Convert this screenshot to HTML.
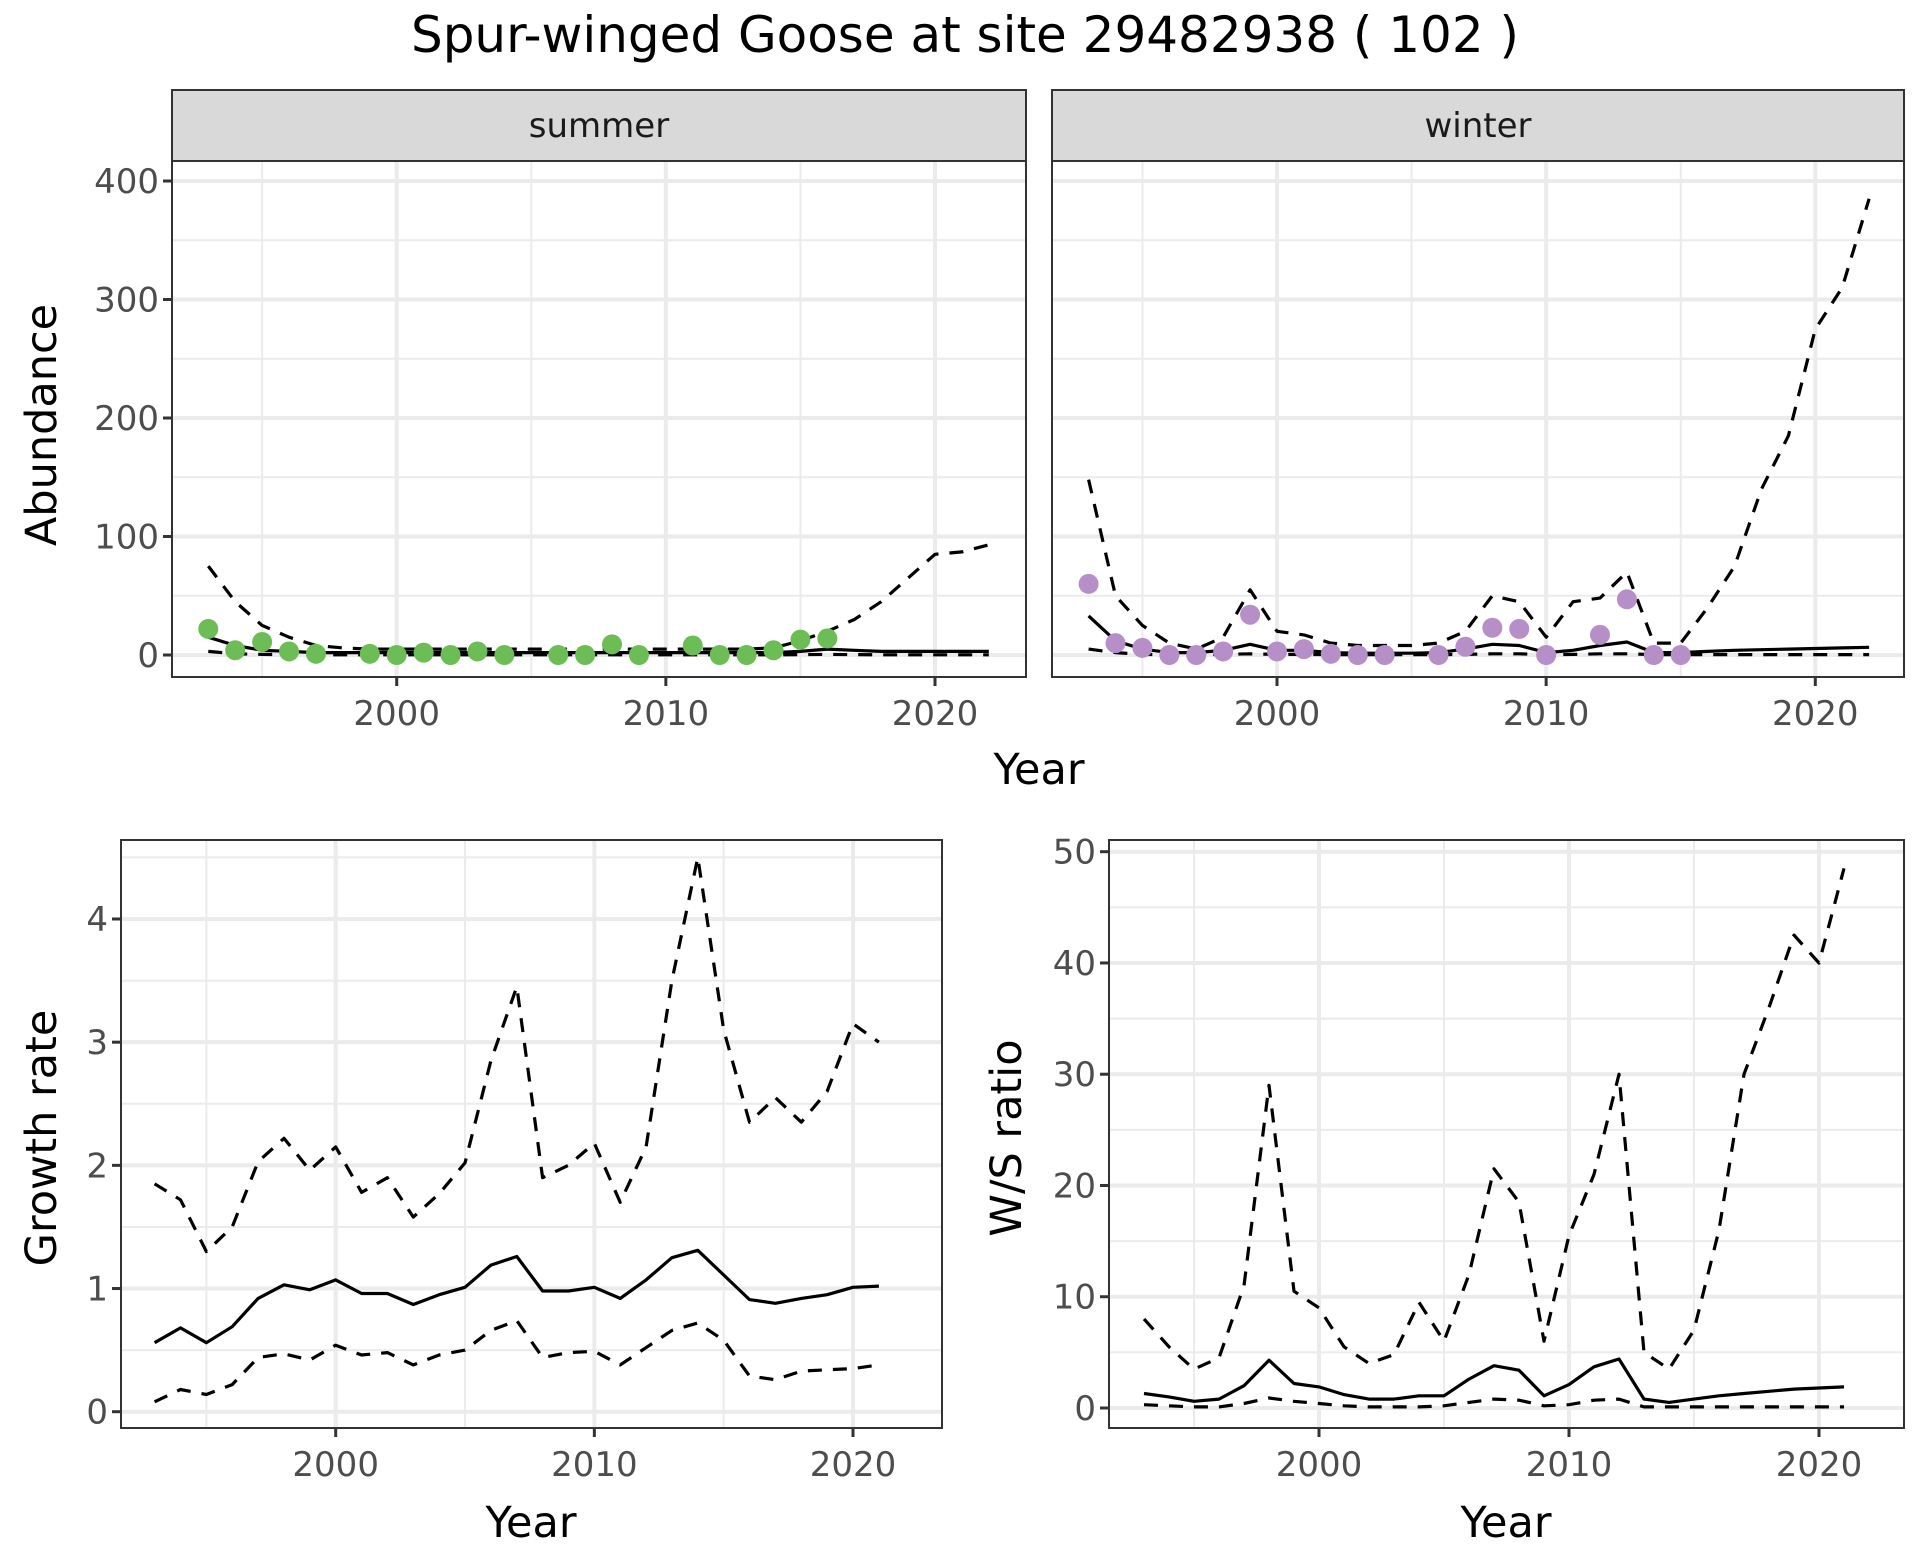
<!DOCTYPE html>
<html><head><meta charset="utf-8">
<style>
html,body{margin:0;padding:0;background:#fff;}
svg{display:block;font-family:"DejaVu Sans","Liberation Sans",sans-serif;}
</style></head>
<body>
<svg id="c" width="1920" height="1560" viewBox="0 0 1920 1560"></svg>
<script>
// ---- data ----
const yearsAll = [1993,1994,1995,1996,1997,1998,1999,2000,2001,2002,2003,2004,2005,2006,2007,2008,2009,2010,2011,2012,2013,2014,2015,2016,2017,2018,2019,2020,2021,2022];
const summerUpper = [75,45,25,15,8,6,5,5,5,5,5,5,5,5,5,5,5,5,5,5,5,6,12,20,30,45,65,85,87,93];
const summerMean  = [15,8,4,3,2,2,2,2,2,2,2,2,2,2,2,2,2,2,2,2,2,2,3,5,4,3,3,3,3,3];
const summerLower = [3,1,0.5,0.3,0.2,0.2,0.2,0.2,0.2,0.2,0.2,0.2,0.2,0.2,0.2,0.2,0.2,0.2,0.2,0.2,0.2,0.2,0.3,0.5,0.3,0.2,0.2,0.2,0.2,0.2];
const summerPtYears = [1993,1994,1995,1996,1997,1999,2000,2001,2002,2003,2004,2006,2007,2008,2009,2011,2012,2013,2014,2015,2016];
const summerPtVals  = [22,4,11,3,1,1,0,2,0,3,0,0,0,9,0,8,0,0,4,13,14];
const winterUpper = [148,50,25,10,5,15,55,20,17,10,8,8,8,10,20,50,45,15,45,48,70,10,10,40,75,140,185,275,310,385];
const winterMean  = [33,12,5,2,2,4,9,4,4,2,1.5,1.5,1.5,2,5,9,8,2,4,8,11,2,2,3,4,4.5,5,5.5,6,6.5];
const winterLower = [5,2,0.5,0.3,0.3,0.5,1,0.5,0.5,0.3,0.3,0.3,0.3,0.3,0.5,1,1,0.3,0.5,1,1,0.3,0.3,0.3,0.3,0.3,0.3,0.3,0.3,0.3];
const winterPtYears = [1993,1994,1995,1996,1997,1998,1999,2000,2001,2002,2003,2004,2006,2007,2008,2009,2010,2012,2013,2014,2015];
const winterPtVals  = [60,10,6,0,0,3,34,3,5,1,0,0,0,7,23,22,0,17,47,0,0];
const yearsRate = [1993,1994,1995,1996,1997,1998,1999,2000,2001,2002,2003,2004,2005,2006,2007,2008,2009,2010,2011,2012,2013,2014,2015,2016,2017,2018,2019,2020,2021];
const growthMean  = [0.56,0.68,0.56,0.69,0.92,1.03,0.99,1.07,0.96,0.96,0.87,0.95,1.01,1.19,1.26,0.98,0.98,1.01,0.92,1.07,1.25,1.31,1.11,0.91,0.88,0.92,0.95,1.01,1.02];
const growthUpper = [1.85,1.72,1.30,1.5,2.03,2.22,1.96,2.15,1.78,1.9,1.58,1.77,2.02,2.85,3.45,1.9,2.0,2.18,1.7,2.15,3.5,4.5,3.1,2.35,2.55,2.35,2.6,3.15,3.0];
const growthLower = [0.08,0.18,0.14,0.22,0.44,0.47,0.42,0.54,0.46,0.48,0.38,0.46,0.50,0.66,0.74,0.44,0.48,0.49,0.38,0.52,0.66,0.72,0.58,0.29,0.26,0.33,0.34,0.35,0.38];
const ratioUpper = [8,5.5,3.5,4.5,11,29,10.5,9,5.5,4,4.8,9.5,6,12,21.5,18.5,6,15.5,21,30,5,3.5,7,16,30,36,42.5,40,48.5];
const ratioMean  = [1.3,1.0,0.6,0.8,2.0,4.3,2.2,1.9,1.2,0.8,0.8,1.1,1.1,2.6,3.8,3.4,1.1,2.1,3.7,4.4,0.8,0.5,0.8,1.1,1.3,1.5,1.7,1.8,1.9];
const ratioLower = [0.3,0.2,0.1,0.1,0.4,0.9,0.6,0.4,0.2,0.1,0.1,0.1,0.2,0.5,0.8,0.7,0.2,0.3,0.7,0.8,0.1,0.1,0.1,0.1,0.1,0.1,0.1,0.1,0.1];
const xTicks = [2000,2010,2020];
const xMinor = [1995,2005,2015];
const abTicks = [0,100,200,300,400];
const abMinor = [50,150,250,350];
const grTicks = [0,1,2,3,4];
const grMinor = [0.5,1.5,2.5,3.5,4.5];
const wsTicks = [0,10,20,30,40,50];
const wsMinor = [5,15,25,35,45];

const svg = document.getElementById('c');
const NS = 'http://www.w3.org/2000/svg';
function mk(tag, attrs, parent){const e=document.createElementNS(NS,tag);for(const k in attrs)e.setAttribute(k,attrs[k]);(parent||svg).appendChild(e);return e;}
function txt(s, attrs, parent){const e=mk('text',attrs,parent);e.textContent=s;return e;}

function panel(o){
  const g = mk('g',{});
  
  
  mk('rect',{x:o.x0,y:o.y0,width:o.x1-o.x0,height:o.y1-o.y0,fill:'#fff'},g);
  o.yMinor.forEach(v=>{const l=mk('line',{x1:o.x0,x2:o.x1,y1:o.ya(v),y2:o.ya(v),stroke:'#ebebeb','stroke-width':2},g);});
  xMinor.forEach(v=>{const l=mk('line',{y1:o.y0,y2:o.y1,x1:o.xa(v),x2:o.xa(v),stroke:'#ebebeb','stroke-width':2},g);});
  o.yTicks.forEach(v=>{const l=mk('line',{x1:o.x0,x2:o.x1,y1:o.ya(v),y2:o.ya(v),stroke:'#ebebeb','stroke-width':4},g);});
  xTicks.forEach(v=>{const l=mk('line',{y1:o.y0,y2:o.y1,x1:o.xa(v),x2:o.xa(v),stroke:'#ebebeb','stroke-width':4},g);});
  function line(ys, vals, dash, nm){
    const d = ys.map((y,i)=>(i?'L':'M')+o.xa(y).toFixed(1)+','+o.ya(vals[i]).toFixed(1)).join('');
    const p = mk('path',{d:d,fill:'none',stroke:'#000','stroke-width':3.2,'stroke-linejoin':'round'},g);
    if(dash) p.setAttribute('stroke-dasharray','14,11');
    
    
  }
  line(o.years,o.upper,true,'upper-bound-line');
  line(o.years,o.lower,true,'lower-bound-line');
  line(o.years,o.mean,false,'mean-line');
  if(o.ptY){
    o.ptY.forEach((y,i)=>{
      const c=mk('circle',{cx:o.xa(y),cy:o.ya(o.ptV[i]),r:10,fill:o.ptC},g);
      
      
    });
  }
  mk('rect',{x:o.x0,y:o.y0,width:o.x1-o.x0,height:o.y1-o.y0,fill:'none',stroke:'#333','stroke-width':2},g);
  if(o.yLabels){
    o.yTicks.forEach(v=>{
      mk('line',{x1:o.x0-9,x2:o.x0,y1:o.ya(v),y2:o.ya(v),stroke:'#333','stroke-width':3},g);
      const t=txt(String(v),{x:o.x0-13,y:o.ya(v)+12,'text-anchor':'end','font-size':34,fill:'#4d4d4d'},g);
      
      
    });
  }
  xTicks.forEach(v=>{
    mk('line',{y1:o.y1,y2:o.y1+9,x1:o.xa(v),x2:o.xa(v),stroke:'#333','stroke-width':3},g);
    const t=txt(String(v),{x:o.xa(v),y:o.y1+48,'text-anchor':'middle','font-size':34,fill:'#4d4d4d'},g);
    
    
  });
  return g;
}
function lin(d0,d1,r0,r1){return v=>r0+(v-d0)*(r1-r0)/(d1-d0);}

const title = txt('Spur-winged Goose at site 29482938 ( 102 )',{x:965,y:52,'text-anchor':'middle','font-size':50,fill:'#000',textLength:1108,lengthAdjust:'spacingAndGlyphs'});



const topY = lin(0,400,655,181);
const strips = [{x0:172,x1:1026,lab:'summer'},{x0:1052,x1:1904,lab:'winter'}];
strips.forEach(s=>{
  const r=mk('rect',{x:s.x0,y:90,width:s.x1-s.x0,height:71,fill:'#d9d9d9',stroke:'#333','stroke-width':2});
  
  
  const t=txt(s.lab,{x:(s.x0+s.x1)/2,y:137,'text-anchor':'middle','font-size':34,fill:'#1a1a1a'});
  
  
});
panel({name:'summer-panel',x0:172,x1:1026,y0:161,y1:677,xa:lin(2000,2020,396.7,935),ya:topY,yTicks:abTicks,yMinor:abMinor,yLabels:true,
  years:yearsAll,upper:summerUpper,mean:summerMean,lower:summerLower,ptY:summerPtYears,ptV:summerPtVals,ptC:'#6dbd57'});
panel({name:'winter-panel',x0:1052,x1:1904,y0:161,y1:677,xa:lin(2000,2020,1277,1815.3),ya:topY,yTicks:abTicks,yMinor:abMinor,yLabels:false,
  years:yearsAll,upper:winterUpper,mean:winterMean,lower:winterLower,ptY:winterPtYears,ptV:winterPtVals,ptC:'#b68fc9'});
let t;
t=txt('Year',{x:1039,y:784,'text-anchor':'middle','font-size':43,fill:'#000'});


t=txt('Abundance',{x:0,y:0,'text-anchor':'middle','font-size':43,fill:'#000',transform:'translate(56,425) rotate(-90)'});



panel({name:'growth-rate-panel',x0:121,x1:942,y0:840,y1:1428,xa:lin(2000,2020,335.7,853),ya:lin(0,4,1411.7,919),yTicks:grTicks,yMinor:grMinor,yLabels:true,
  years:yearsRate,upper:growthUpper,mean:growthMean,lower:growthLower});
t=txt('Year',{x:531,y:1537,'text-anchor':'middle','font-size':43,fill:'#000'});


t=txt('Growth rate',{x:0,y:0,'text-anchor':'middle','font-size':43,fill:'#000',transform:'translate(56,1138) rotate(-90)'});



panel({name:'ws-ratio-panel',x0:1109,x1:1904,y0:840,y1:1428,xa:lin(2000,2020,1319,1819),ya:lin(0,50,1408,851.7),yTicks:wsTicks,yMinor:wsMinor,yLabels:true,
  years:yearsRate,upper:ratioUpper,mean:ratioMean,lower:ratioLower});
t=txt('Year',{x:1506,y:1537,'text-anchor':'middle','font-size':43,fill:'#000'});


t=txt('W/S ratio',{x:0,y:0,'text-anchor':'middle','font-size':43,fill:'#000',transform:'translate(1021,1138) rotate(-90)'});


</script>
</body></html>
